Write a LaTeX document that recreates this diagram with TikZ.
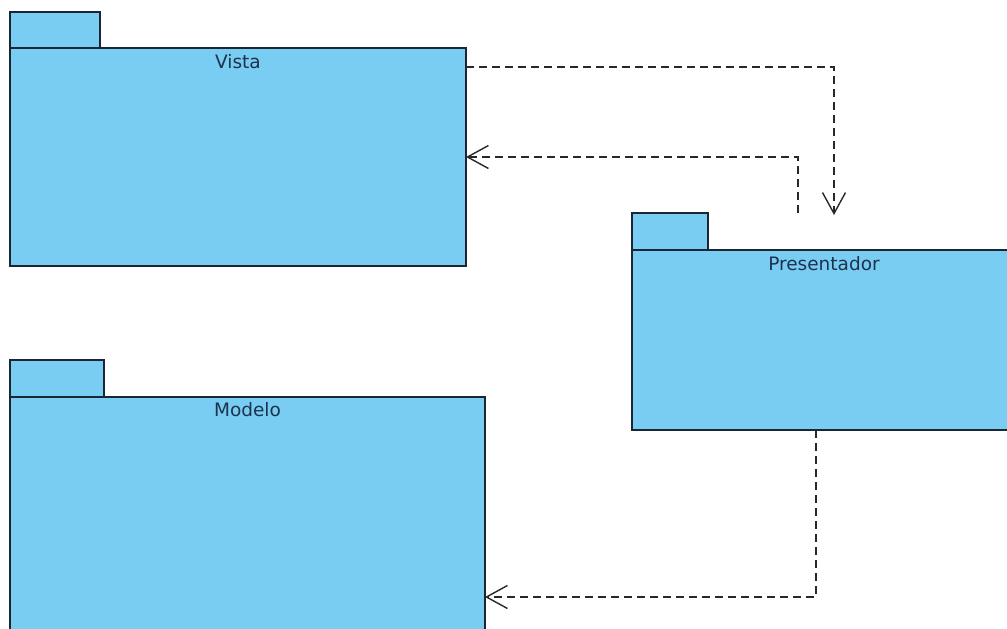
\documentclass[tikz,border=0pt]{standalone}
\usepackage{fontspec}
\setmainfont{DejaVu Sans}
\usetikzlibrary{arrows.meta}

\definecolor{pkgfill}{RGB}{122,205,242}
\definecolor{pkgline}{RGB}{26,38,52}
\definecolor{pkgtext}{RGB}{28,50,78}
\definecolor{depline}{RGB}{40,40,40}

\tikzset{
  pkgbody/.style={draw=pkgline, fill=pkgfill, line width=1.8pt,
    inner sep=0pt, outer sep=0pt, rectangle},
  pkgtab/.style={pkgbody},
  pkgname/.style={text=pkgtext, inner sep=0pt, anchor=base,
    font=\fontsize{18.5}{22}\selectfont},
  dep/.style={draw=depline, line width=1.8pt, dash pattern=on 8pt off 5pt,
    -{Straight Barb[length=21pt, width=23pt, line width=1.4pt]}},
}

\begin{document}
\begin{tikzpicture}[x=1pt, y=-1pt]
  \useasboundingbox (0,0) rectangle (1007,629);
  \clip (0,0) rectangle (1007,629);

  % package Vista
  \node[pkgtab, minimum width=90pt, minimum height=36pt] (vtab) at (55,30) {};
  \node[pkgbody, minimum width=456pt, minimum height=218pt] (vista) at (238,157) {};
  \node[pkgname] (vistaname) at ([yshift=-20pt]vista.north) {Vista};

  % package Presentador
  \node[pkgtab, minimum width=76pt, minimum height=37pt] (ptab) at (670,231.5) {};
  \node[pkgbody, minimum width=384pt, minimum height=180pt] (pres) at (824,340) {};
  \node[pkgname] (presname) at ([yshift=-20pt]pres.north) {Presentador};

  % package Modelo
  \node[pkgtab, minimum width=94pt, minimum height=37pt] (mtab) at (57,378.5) {};
  \node[pkgbody, minimum width=475pt, minimum height=263pt] (modelo) at (247.5,528.5) {};
  \node[pkgname] (modeloname) at ([yshift=-19pt]modelo.north) {Modelo};

  % dependencies
  \coordinate (vout) at ([yshift=-19pt]vista.north east);
  \coordinate (pin) at ([xshift=10pt]pres.north |- ptab.north);
  \coordinate (pout) at ([xshift=-26pt]pres.north |- ptab.north);
  \coordinate (pdown) at ([xshift=-8pt]pres.south);
  \coordinate (min) at ([yshift=-200pt]modelo.north east);

  \draw[dep] (vout) -| ([yshift=-2pt]pin);
  \draw[dep] (pout) |- (vista.east);
  \draw[dep] (pdown) |- (min);
\end{tikzpicture}
\end{document}
